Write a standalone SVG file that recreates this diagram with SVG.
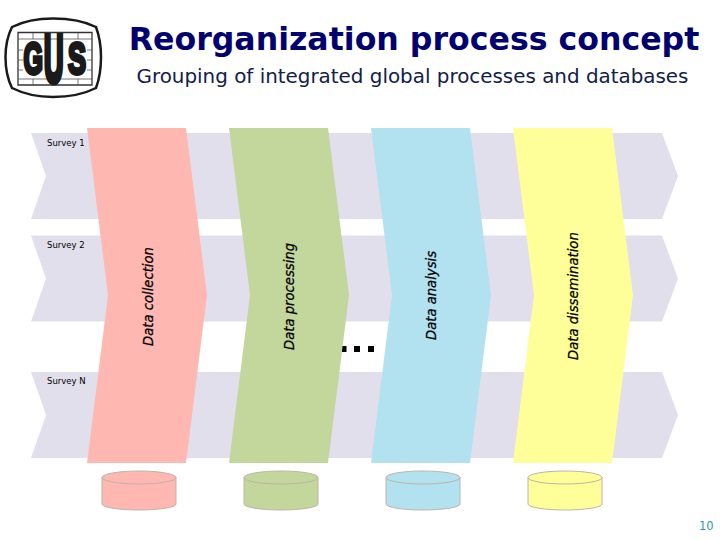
<svg xmlns="http://www.w3.org/2000/svg" width="720" height="540" viewBox="0 0 720 540">
<style>
.band{fill:#e1dfeb}
.survey{font:8.500px "DejaVu Sans",sans-serif;fill:#000}
.col{font:italic 13.200px "DejaVu Sans",sans-serif;fill:#000;stroke:#000;stroke-width:.25}
.cyl{stroke:#bdb4a8;stroke-width:1}
.red{fill:#ffb7b2}.green{fill:#c3d69b}.blue{fill:#b2e2ef}.yellow{fill:#ffff99}
.gus{font:bold 10px "Liberation Sans",sans-serif;fill:#1a1a1a;stroke:#1a1a1a;stroke-width:.9}
</style>
<defs>
<path id="chev" d="M31 0H662L678 43L662 86H31L46 43Z"/>
<path id="col" d="M0 0H99L120 167L99 335H0L21 167Z"/>
<g id="cylinder"><path d="M0 6.500A37 6.500 0 0 1 74 6.500V33A37 6 0 0 1 0 33Z"/><path d="M0 6.500A37 6.500 0 0 0 74 6.500" fill="none"/></g>
</defs>
<rect width="720" height="540" fill="#fff"/>
<g id="logo">
<path d="M53 18.500C70 18.500 86 22 96 27C99 35 101 46 101 57C101 68 99 80 96 88C86 93 70 97 53 97C38 97 22 93 12 88C8 80 5.500 68 5.500 57C5.500 46 8 35 12 27C22 22 38 18.500 53 18.500Z" fill="#fff" stroke="#1a1a1a" stroke-width="2.500"/>
<path d="M18 32.500H92V85H18Z" fill="none" stroke="#333" stroke-width="1.300"/>
<path d="M18 39H92M18 79H92M18 50H23M18 60H23M18 70H23M87 50H92M87 60H92M87 70H92M33 33V39M33 79V85M78 33V39M78 79V85" stroke="#555" stroke-width=".8"/>
<text class="gus" transform="translate(23.500 73.800) scale(2.500 4.400)">G</text>
<text class="gus" transform="translate(44 81.700) scale(2.700 6.600)">U</text>
<text class="gus" transform="translate(68 73.800) scale(2.700 4.400)">S</text>
</g>
<g id="title">
<text x="414" y="50" text-anchor="middle" font-family="DejaVu Sans,sans-serif" font-weight="bold" font-size="31.600" fill="#00006e">Reorganization process concept</text>
<text x="412.500" y="83" text-anchor="middle" font-family="DejaVu Sans,sans-serif" font-size="19.900" fill="#10204a">Grouping of integrated global processes and databases</text>
</g>
<g id="survey-1"><use href="#chev" class="band" y="133"/><text class="survey" x="47" y="146">Survey 1</text></g>
<g id="survey-2"><use href="#chev" class="band" y="235.500"/><text class="survey" x="47" y="248">Survey 2</text></g>
<g id="survey-n"><use href="#chev" class="band" y="372"/><text class="survey" x="47" y="384">Survey N</text></g>
<g id="ellipsis"><rect x="342" y="346" width="4.500" height="6"/><rect x="354" y="346" width="6" height="6"/><rect x="368" y="346" width="6" height="6"/></g>
<g id="collection"><use href="#col" class="red" x="87" y="128"/><text class="col" transform="translate(153 346) rotate(-90)">Data collection</text></g>
<g id="processing"><use href="#col" class="green" x="229" y="128"/><text class="col" transform="translate(294 350) rotate(-90)">Data processing</text></g>
<g id="analysis"><use href="#col" class="blue" x="371" y="128"/><text class="col" transform="translate(436 340) rotate(-90)">Data analysis</text></g>
<g id="dissemination"><use href="#col" class="yellow" x="513" y="128"/><text class="col" transform="translate(578 360) rotate(-90)">Data dissemination</text></g>
<g id="db-1"><use href="#cylinder" class="red cyl" x="102" y="471"/></g>
<g id="db-2"><use href="#cylinder" class="green cyl" x="244" y="471"/></g>
<g id="db-3"><use href="#cylinder" class="blue cyl" x="386" y="471"/></g>
<g id="db-4"><use href="#cylinder" class="yellow cyl" x="528" y="471"/></g>
<text id="page" x="699" y="530" font-family="DejaVu Sans,sans-serif" font-size="11.500" fill="#2a9ab0">10</text>
</svg>
